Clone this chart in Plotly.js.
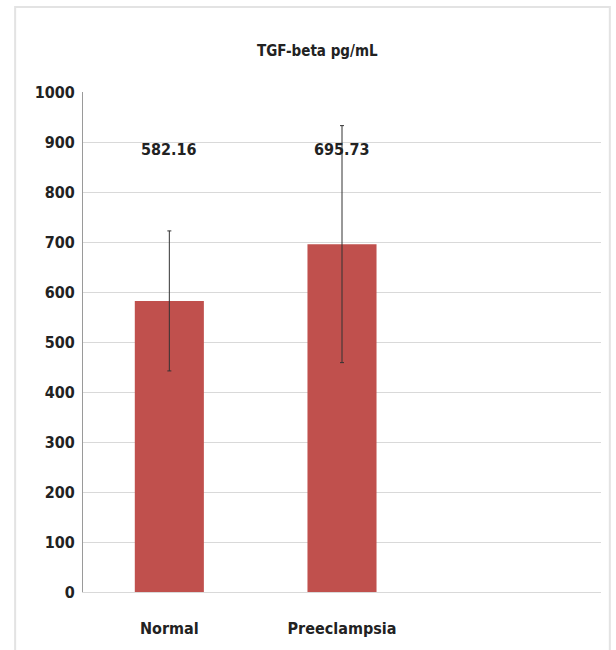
<!DOCTYPE html>
<html><head><meta charset="utf-8">
<script src="https://cdn.plot.ly/plotly-3.0.1.min.js"></script>
<style>body{margin:0;background:#fff}</style>
</head><body>
<div id="chart" style="width:616px;height:650px"></div>
<script>
var categories = ["Normal", "Preeclampsia", " "];
var values = [582.16, 695.73, null];
var errors = [140, 237, null];
var valueLabels = ["582.16", "695.73"];
var labelLevel = 885;
var yTicks = [0,100,200,300,400,500,600,700,800,900,1000];

var font = "'DejaVu Sans Condensed', 'Liberation Sans Narrow', 'Arial Narrow', sans-serif";

var trace = {
  type: "bar",
  x: categories,
  y: values,
  marker: {color: "#c0504d"},
  error_y: {type: "data", array: errors, visible: true, color: "#333333", thickness: 1, width: 2},
  hoverinfo: "none"
};

var annotations = valueLabels.map(function(t, i){
  return {x: categories[i], y: labelLevel, text: "<b>" + t + "</b>", showarrow: false,
    font: {family: font, size: 16, color: "#222"}, xref: "x", yref: "y"};
});

var layout = {
  width: 616, height: 650,
  margin: {l: 83, r: 15, t: 92, b: 58},
  paper_bgcolor: "#ffffff", plot_bgcolor: "#ffffff",
  showlegend: false,
  bargap: 0.6,
  title: {text: "<b>TGF-beta pg/mL</b>", x: 0.515, xanchor: "center", y: 0.922, yanchor: "middle",
    font: {family: font, size: 15, color: "#222"}},
  xaxis: {type: "category", showgrid: false, showline: true, linecolor: "#d9d9d9", linewidth: 1,
    ticks: "", ticklabelstandoff: 22, tickfont: {family: font, size: 16, color: "#222"}, fixedrange: true},
  yaxis: {range: [0, 1000], tickvals: yTicks, ticktext: yTicks.map(function(v){return "<b>"+v+"</b>";}),
    showgrid: true, gridcolor: "#d9d9d9", gridwidth: 1, zeroline: false,
    showline: true, linecolor: "#9a9a9a", linewidth: 1, ticks: "", ticklabelstandoff: 4,
    tickfont: {family: font, size: 16, color: "#222"}, fixedrange: true},
  annotations: annotations,
  shapes: [{type: "rect", xref: "paper", yref: "paper", x0: -0.131, x1: 1.017, y0: -0.13, y1: 1.17,
    line: {color: "#e3e3e3", width: 2}, fillcolor: "rgba(0,0,0,0)", layer: "below"}]
};
layout.xaxis.ticktext = categories.map(function(c){return "<b>"+c+"</b>";});
layout.xaxis.tickvals = categories;

Plotly.newPlot("chart", [trace], layout, {displayModeBar: false, staticPlot: true});
</script>
</body></html>
